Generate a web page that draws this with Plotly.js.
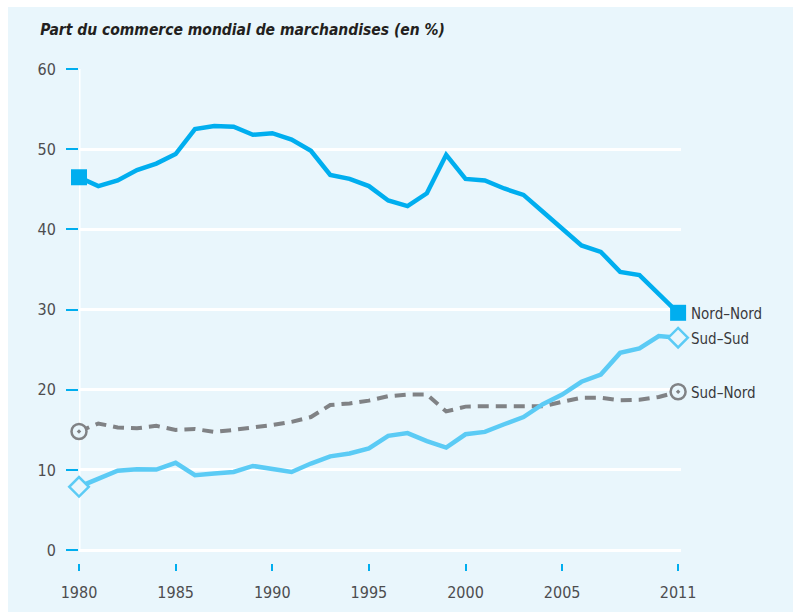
<!DOCTYPE html>
<html><head><meta charset="utf-8">
<script src="https://cdn.plot.ly/plotly-3.0.1.min.js"></script>
<style>
html,body{margin:0;padding:0;background:#fff;}
#chart{position:absolute;left:8px;top:7px;width:785px;height:605px;}
</style></head>
<body><div id="chart"></div>
<script>
const years = [];
for (let y = 1980; y <= 2011; y++) years.push(y);
const nordNord = [46.5,45.4,46.1,47.4,48.2,49.4,52.5,52.9,52.8,51.8,52.0,51.2,49.8,46.8,46.3,45.4,43.6,42.9,44.5,49.3,46.3,46.1,45.1,44.3,42.2,40.1,38.0,37.2,34.7,34.3,31.9,29.6];
const sudSud = [7.9,8.9,9.9,10.1,10.05,10.9,9.35,9.55,9.75,10.5,10.15,9.75,10.8,11.7,12.05,12.7,14.25,14.6,13.6,12.8,14.45,14.75,15.7,16.6,18.2,19.4,21.0,21.9,24.6,25.15,26.7,26.5];
const sudNord = [14.8,15.8,15.3,15.2,15.5,15.0,15.1,14.75,15.0,15.25,15.6,16.0,16.6,18.1,18.3,18.65,19.2,19.4,19.4,17.3,17.9,17.95,17.95,17.9,17.95,18.5,19.0,19.0,18.7,18.75,19.1,19.75];
const seriesNames = ['Nord\u2013Nord','Sud\u2013Sud','Sud\u2013Nord'];
const xTickVals = [1980,1985,1990,1995,2000,2005,2011];
const yTickVals = [0,10,20,30,40,50,60];
const titleText = 'Part du commerce mondial de marchandises (en %)';

const BG = '#e9f6fc';
const C_NN = '#00aeef', C_SS = '#5bcbf5', C_SN = '#808285';
const FONT = '"Liberation Sans Narrow","DejaVu Sans Condensed","Roboto Condensed","Liberation Sans",sans-serif';
const last = years.length - 1;

function ends(arr){ return {x:[years[0], years[last]], y:[arr[0], arr[last]]}; }

const traces = [
  {x:years, y:sudNord, mode:'lines', line:{color:C_SN, width:4, dash:'11px,7px'}, hoverinfo:'none', cliponaxis:false},
  {x:years, y:sudSud, mode:'lines', line:{color:C_SS, width:4.5}, hoverinfo:'none', cliponaxis:false},
  {x:years, y:nordNord, mode:'lines', line:{color:C_NN, width:4.5}, hoverinfo:'none', cliponaxis:false},
  Object.assign(ends(nordNord), {mode:'markers', marker:{symbol:'square', size:16, color:C_NN}, cliponaxis:false, hoverinfo:'none'}),
  Object.assign(ends(sudSud), {mode:'markers', marker:{symbol:'diamond', size:15, color:BG, line:{color:C_SS, width:2.5}}, cliponaxis:false, hoverinfo:'none'}),
  Object.assign(ends(sudNord), {mode:'markers', marker:{symbol:'circle-dot', size:15, color:BG, line:{color:C_SN, width:2.5}}, cliponaxis:false, hoverinfo:'none'})
];

const finals = [nordNord[last], sudSud[last], sudNord[last]];
const annotations = seriesNames.map((n,i)=>({
  x: years[last], y: finals[i], xref:'x', yref:'y', text:n, showarrow:false,
  xanchor:'left', xshift:11, yshift:-1, font:{family:FONT, size:15, color:'#3a3a3c'}
}));

const layout = {
  width:785, height:605,
  paper_bgcolor:BG, plot_bgcolor:BG,
  margin:{l:71, r:112, t:62, b:49, pad:0},
  showlegend:false,
  title:{text:'<b><i>'+titleText+'</i></b>', x:0.041, xref:'container', xanchor:'left', y:0.962, yref:'container', yanchor:'middle', font:{family:FONT, size:15.5, color:'#231f20'}},
  xaxis:{range:[1980, 2011.15], tickvals:xTickVals, ticktext:xTickVals.map(String), showgrid:false, zeroline:false, showline:false,
    ticks:'outside', ticklen:7, tickwidth:2, tickcolor:C_NN, ticklabelstandoff:8,
    tickfont:{family:FONT, size:16, color:'#4d4d4f'}, fixedrange:true},
  yaxis:{range:[-1.6, 60], tickvals:yTickVals, showgrid:true, gridcolor:'#ffffff', gridwidth:3, zeroline:false, showline:false,
    ticks:'outside', ticklen:12, tickwidth:2, tickcolor:C_NN, ticklabelstandoff:7,
    tickfont:{family:FONT, size:16, color:'#4d4d4f'}, fixedrange:true},
  shapes:[
    {type:'line', xref:'x', yref:'y', x0:1980, x1:1980, y0:0, y1:60, line:{color:'#ffffff', width:3}, layer:'below'},
    {type:'line', xref:'x', yref:'y', x0:1979.84, x1:1979.84, y0:-1.6, y1:60.3, line:{color:BG, width:4}, layer:'below'}
  ],
  annotations:annotations
};
Plotly.newPlot('chart', traces, layout, {staticPlot:true, displayModeBar:false});
</script></body></html>
